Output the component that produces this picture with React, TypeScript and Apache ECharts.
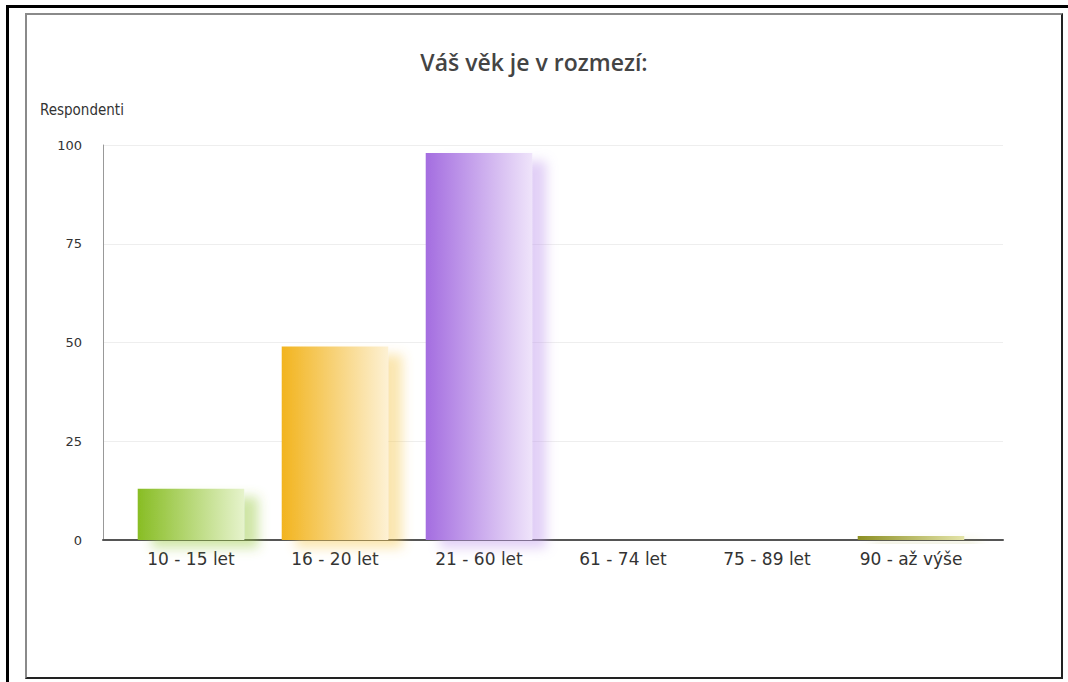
import React, { useEffect, useRef } from "react";
import * as echarts from "echarts";

const titleText = "Váš věk je v rozmezí:";
const yAxisTitle = "Respondenti";
const categories = ["10 - 15 let", "16 - 20 let", "21 - 60 let", "61 - 74 let", "75 - 89 let", "90 - až výše"];
const values = [13, 49, 98, 0, 0, 1];
const colorsLeft = ["#88bd24", "#f2b41e", "#a46de0", "#5aa0d8", "#e07a5a", "#8c8f24"];
const colorsRight = ["#e6f3cc", "#fdf1d4", "#efe4fa", "#e0eef9", "#fae2da", "#e4e4a8"];
const shadowColors = [
  "rgba(150,200,60,0.45)",
  "rgba(245,200,80,0.45)",
  "rgba(190,150,235,0.45)",
  "rgba(120,170,220,0.45)",
  "rgba(230,140,110,0.45)",
  "rgba(160,160,60,0.45)",
];
const yMin = 0;
const yMax = 100;
const yInterval = 25;

export default function App() {
  const ref = useRef<HTMLDivElement>(null);
  useEffect(() => {
    if (!ref.current) return;
    const chart = echarts.init(ref.current, null, { renderer: "svg" });
    const fontFamily = "'DejaVu Sans', sans-serif";
    chart.setOption({
      animation: false,
      backgroundColor: "transparent",
      title: {
        text: titleText,
        left: "center",
        top: 45,
        textStyle: {
          fontFamily: "'Open Sans', sans-serif",
          fontWeight: 600,
          fontSize: 23,
          color: "#444",
        },
      },
      graphic: [
        {
          type: "text",
          left: 40,
          top: 102,
          style: { text: yAxisTitle, fontFamily: "'DejaVu Sans Condensed', 'DejaVu Sans', sans-serif", fontSize: 15, fill: "#333" },
        },
      ],
      grid: [
        { left: 103, right: 65, top: 145, bottom: 142 },
        { left: 119, right: 85, top: 145, bottom: 142 },
      ],
      xAxis: [
        {
          type: "category",
          gridIndex: 0,
          data: categories,
          axisLine: { show: true, lineStyle: { color: "#555", width: 2 } },
          axisTick: { show: false },
          axisLabel: { show: false },
          splitLine: { show: false },
        },
        {
          type: "category",
          gridIndex: 1,
          data: categories,
          axisLine: { show: false },
          axisTick: { show: false },
          axisLabel: { color: "#333", fontSize: 17, fontFamily, margin: 10 },
        },
      ],
      yAxis: [
        {
          type: "value",
          gridIndex: 0,
          min: yMin,
          max: yMax,
          interval: yInterval,
          axisLine: { show: true, lineStyle: { color: "#999", width: 1 } },
          axisTick: { show: false },
          axisLabel: { color: "#333", fontSize: 13, fontFamily, margin: 21 },
          splitLine: { show: true, lineStyle: { color: "#eeeeee", width: 1 } },
        },
        {
          type: "value",
          gridIndex: 1,
          min: yMin,
          max: yMax,
          interval: yInterval,
          show: false,
          splitLine: { show: false },
        },
      ],
      series: [
        {
          type: "bar",
          xAxisIndex: 1,
          yAxisIndex: 1,
          barWidth: "74%",
          data: values.map((v, i) => ({
            value: v,
            itemStyle: {
              color: new echarts.graphic.LinearGradient(0, 0, 1, 0, [
                { offset: 0, color: colorsLeft[i] },
                { offset: 1, color: colorsRight[i] },
              ]),
              shadowColor: shadowColors[i],
              shadowBlur: 12,
              shadowOffsetX: 14,
              shadowOffsetY: 8,
            },
          })),
        },
      ],
    });
    return () => chart.dispose();
  }, []);

  return (
    <div style={{ position: "fixed", left: 0, top: 0, width: 1068, height: 682, background: "#fff", overflow: "hidden" }}>
      <div
        style={{
          position: "absolute",
          left: 6,
          top: 5,
          width: 1100,
          height: 700,
          borderTop: "3px solid #000",
          borderLeft: "3px solid #000",
        }}
      />
      <div
        style={{
          position: "absolute",
          left: 25,
          top: 13,
          width: 1034,
          height: 662,
          borderTop: "2px solid #8a8a8a",
          borderLeft: "2px solid #8a8a8a",
          borderRight: "2px solid #222",
          borderBottom: "2px solid #222",
        }}
      />
      <div ref={ref} style={{ position: "absolute", left: 0, top: 0, width: 1068, height: 682 }} />
    </div>
  );
}
